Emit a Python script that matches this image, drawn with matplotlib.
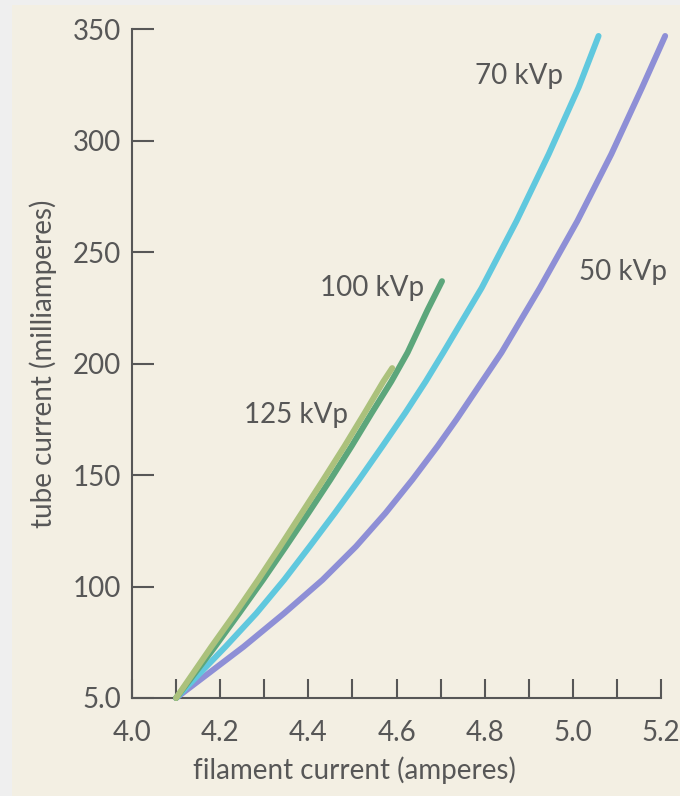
import matplotlib
matplotlib.use("Agg")
import matplotlib.pyplot as plt
from matplotlib.patches import Rectangle
from matplotlib.ticker import FixedLocator

# filament current (A) -> tube current (mA)
x_50kvp = [4.10, 4.253, 4.345, 4.432, 4.508, 4.575, 4.636, 4.693, 4.736, 4.838, 4.925, 5.010, 5.087, 5.157, 5.209]
y_50kvp = [50, 73, 88, 103, 118, 133, 148, 163, 175, 205, 234, 264, 294, 324, 347]

x_70kvp = [4.10, 4.212, 4.282, 4.345, 4.403, 4.460, 4.515, 4.568, 4.620, 4.666, 4.706, 4.793, 4.872, 4.945, 5.013, 5.058]
y_70kvp = [50, 73, 88, 103, 118, 133, 148, 163, 178, 192, 205, 234, 264, 294, 324, 347]

x_100kvp = [4.10, 4.188, 4.243, 4.297, 4.349, 4.400, 4.450, 4.498, 4.544, 4.588, 4.625, 4.670, 4.703]
y_100kvp = [50, 73, 88, 103, 118, 133, 148, 163, 178, 192, 205, 224, 237]

x_125kvp = [4.10, 4.180, 4.234, 4.286, 4.336, 4.385, 4.434, 4.482, 4.528, 4.570, 4.590]
y_125kvp = [50, 73, 88, 103, 118, 133, 148, 163, 178, 192, 198]

series = [
    ("50 kVp", x_50kvp, y_50kvp, "#8e8fd6", (5.113, 241)),
    ("70 kVp", x_70kvp, y_70kvp, "#60c8de", (4.878, 329)),
    ("100 kVp", x_100kvp, y_100kvp, "#5ca67b", (4.544, 234)),
    ("125 kVp", x_125kvp, y_125kvp, "#abc17c", (4.372, 177)),
]

y_ticks = [50, 100, 150, 200, 250, 300, 350]
y_tick_labels = ["5.0", "100", "150", "200", "250", "300", "350"]
x_ticks = [4.0, 4.2, 4.4, 4.6, 4.8, 5.0, 5.2]
x_minor = [4.1, 4.3, 4.5, 4.7, 4.9, 5.1]

PAPER = "#f3efe3"
INK = "#575757"
FONT = "Lato"
FS = 20

fig = plt.figure(figsize=(6.8, 7.96), dpi=100, facecolor="#efefef")
# scanned page area (thin grey margin left / top)
fig.patches.append(Rectangle((12 / 680, 0), 1, 1 - 5 / 796, transform=fig.transFigure,
                             facecolor=PAPER, edgecolor="none", zorder=-10))

ax = fig.add_axes([132 / 680, 98 / 796, 538 / 680, 691 / 796])
ax.patch.set_alpha(0)
ax.set_xlim(4.0, 5.22)
ax.set_ylim(50, 360)

for label, xs, ys, color, pos in series:
    ax.plot(xs, ys, color=color, lw=4.3, solid_capstyle="round",
            solid_joinstyle="round", zorder=3, clip_on=False)
    ax.text(pos[0], pos[1], label, ha="center", va="center",
            fontsize=FS, color=INK, family=FONT)

ax.spines[["top", "right"]].set_visible(False)
for side in ("left", "bottom"):
    ax.spines[side].set_color(INK)
    ax.spines[side].set_linewidth(1.5)
ax.spines["bottom"].set_bounds(4.0, 5.2)
ax.spines["left"].set_bounds(50, 350)

ax.yaxis.set_major_locator(FixedLocator(y_ticks))
ax.set_yticklabels(y_tick_labels)
ax.xaxis.set_major_locator(FixedLocator(x_ticks))
ax.xaxis.set_minor_locator(FixedLocator(x_minor))
ax.set_xticklabels([f"{v:.1f}" for v in x_ticks])

ax.tick_params(axis="y", direction="in", length=16, width=1.5, color=INK,
               labelsize=FS, labelcolor=INK, pad=8)
ax.tick_params(axis="x", which="both", direction="in", length=14, width=1.5,
               color=INK, labelsize=FS, labelcolor=INK, pad=16)
for lbl in ax.get_xticklabels() + ax.get_yticklabels():
    lbl.set_family(FONT)

ax.set_xlabel("filament current (amperes)", fontsize=FS, color=INK, family=FONT)
ax.xaxis.set_label_coords(0.413, -0.085)
ax.set_ylabel("tube current (milliamperes)", fontsize=FS, color=INK, family=FONT)
ax.yaxis.set_label_coords(-0.139, 0.484)

fig.savefig("out.png", dpi=100, facecolor=fig.get_facecolor())
